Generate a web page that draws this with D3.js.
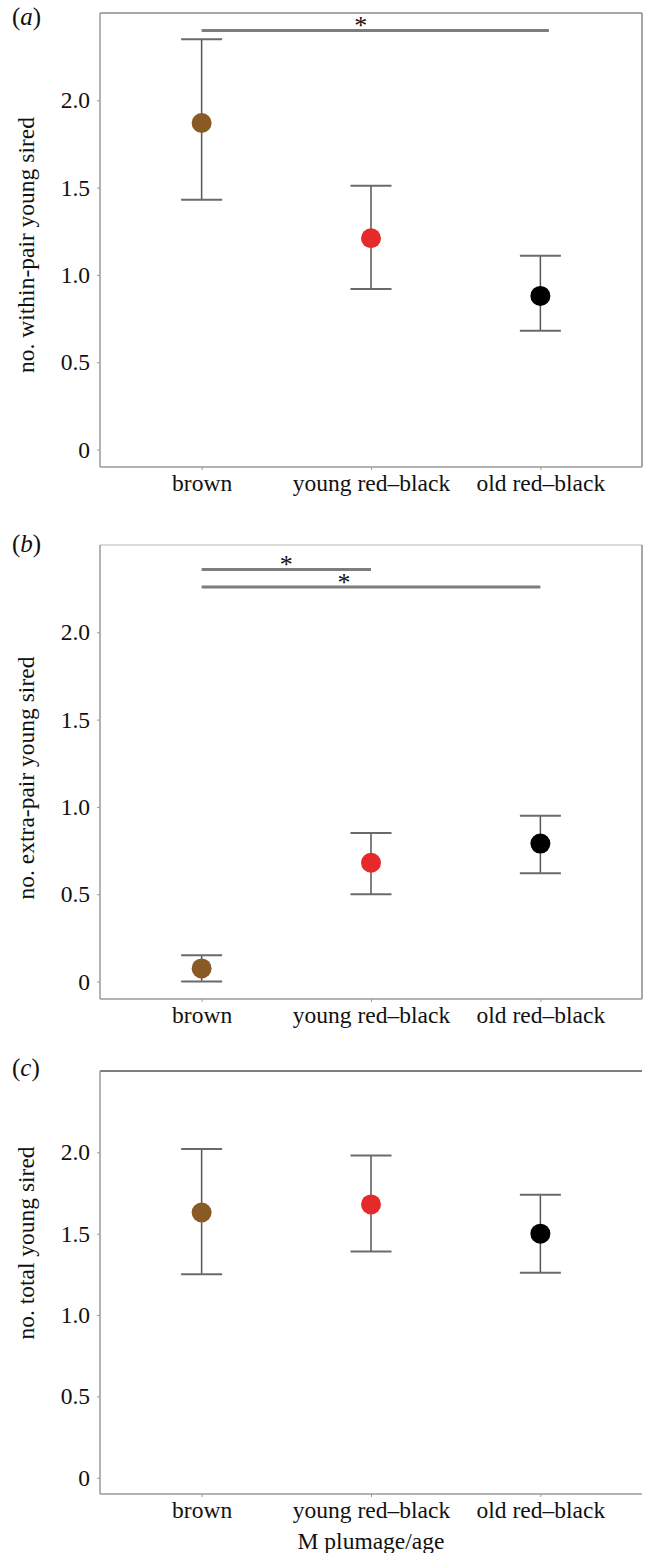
<!DOCTYPE html>
<html>
<head>
<meta charset="utf-8">
<script src="https://cdn.jsdelivr.net/npm/d3@7/dist/d3.min.js"></script>
<style>
  html, body { margin: 0; padding: 0; background: #fff; }
  svg { display: block; }
  text { font-family: "Liberation Serif", "DejaVu Serif", serif; fill: #111; }
</style>
</head>
<body>
<svg id="chart" width="649" height="1553"></svg>
<script>
// ---------- data ----------
const categories = ["brown", "young red\u2013black", "old red\u2013black"];
const pointColors = ["#8a5a24", "#e62a2a", "#000000"];
const yTicks = [0, 0.5, 1.0, 1.5, 2.0];
const yTickLabels = ["0", "0.5", "1.0", "1.5", "2.0"];

// (a) within-pair young sired
const withinMean = [1.87, 1.21, 0.88];
const withinLow  = [1.43, 0.92, 0.68];
const withinHigh = [2.35, 1.51, 1.11];

// (b) extra-pair young sired
const extraMean = [0.075, 0.68, 0.79];
const extraLow  = [0.0, 0.50, 0.62];
const extraHigh = [0.15, 0.85, 0.95];

// (c) total young sired
const totalMean = [1.63, 1.68, 1.50];
const totalLow  = [1.25, 1.39, 1.26];
const totalHigh = [2.02, 1.98, 1.74];

// significance bars: [from index, to index, y value, star index position]
const sigA = [[0, 2.05, 2.40, 0.94]];
const sigB = [[0, 1.0, 2.36, 0.50], [0, 2.0, 2.26, 0.84]];
const sigC = [];

const yTitles = ["no. within-pair young sired", "no. extra-pair young sired", "no. total young sired"];
const panelTags = ["a", "b", "c"];
const xTitle = "M plumage/age";

// ---------- layout ----------
const svg = d3.select("#chart");
const left = 100, right = 642;
const FS = 23.5;
const panels = [
  { top: 13,   bottom: 467,  mean: withinMean, low: withinLow, high: withinHigh, sig: sigA, frame: "box",  topColor: "#8a8a8a", titleY: 245, tagY: 25 },
  { top: 545,  bottom: 999,  mean: extraMean,  low: extraLow,  high: extraHigh,  sig: sigB, frame: "box",  topColor: "#cfcfcf", titleY: 778, tagY: 552 },
  { top: 1071, bottom: 1494, mean: totalMean,  low: totalLow,  high: totalHigh,  sig: sigC, frame: "open", topColor: "#555555", titleY: 1243, tagY: 1076 }
];

const x = d3.scalePoint().domain(categories).range([left, right]).padding(0.6);
const xi = d3.scaleLinear().domain([0, 2]).range([x(categories[0]), x(categories[2])]);

panels.forEach((p, pi) => {
  const y = d3.scaleLinear().domain([-0.1, 2.5]).range([p.bottom, p.top]);
  const g = svg.append("g");

  // frame top / right
  g.append("line").attr("x1", left).attr("x2", right).attr("y1", p.top).attr("y2", p.top)
    .attr("stroke", p.topColor).attr("stroke-width", 1.5);
  if (p.frame === "box") {
    g.append("line").attr("x1", right).attr("x2", right).attr("y1", p.top).attr("y2", p.bottom)
      .attr("stroke", "#8a8a8a").attr("stroke-width", 1.5);
  }

  // y axis
  const yAxis = d3.axisLeft(y).tickValues(yTicks).tickFormat((d, i) => yTickLabels[i])
    .tickSize(3).tickPadding(7);
  const ya = g.append("g").attr("transform", `translate(${left},0)`).call(yAxis);
  ya.select(".domain").attr("stroke", "#9a9a9a").attr("stroke-width", 1.5)
    .attr("d", `M0,${p.top}V${p.bottom}`);
  ya.selectAll(".tick line").attr("stroke", "#9a9a9a");
  ya.selectAll(".tick text").attr("font-size", FS).attr("font-family", "Liberation Serif").attr("fill", "#111");

  // x axis
  const xAxis = d3.axisBottom(x).tickSize(3).tickPadding(4);
  const xa = g.append("g").attr("transform", `translate(0,${p.bottom})`).call(xAxis);
  xa.select(".domain").attr("stroke", "#9a9a9a").attr("stroke-width", 1.5)
    .attr("d", `M${left},0H${right}`);
  xa.selectAll(".tick line").attr("stroke", "#9a9a9a");
  xa.selectAll(".tick text").attr("font-size", FS).attr("font-family", "Liberation Serif").attr("fill", "#111");

  // y title
  g.append("text").attr("transform", `translate(34,${p.titleY}) rotate(-90)`)
    .attr("text-anchor", "middle").attr("font-size", FS).text(yTitles[pi]);

  // panel tag
  const tag = g.append("text").attr("x", 12).attr("y", p.tagY).attr("font-size", 25);
  tag.append("tspan").text("(");
  tag.append("tspan").attr("font-style", "italic").text(panelTags[pi]);
  tag.append("tspan").text(")");

  // significance bars
  p.sig.forEach(s => {
    g.append("line").attr("x1", xi(s[0])).attr("x2", xi(s[1])).attr("y1", y(s[2])).attr("y2", y(s[2]))
      .attr("stroke", "#7d7d7d").attr("stroke-width", 3);
    g.append("text").attr("x", xi(s[3])).attr("y", y(s[2]) + 4).attr("text-anchor", "middle")
      .attr("font-size", 26).attr("fill", "#333").text("*");
  });

  // error bars
  const data = categories.map((c, i) => ({ c, i, m: p.mean[i], lo: p.low[i], hi: p.high[i] }));
  const eb = g.selectAll(".eb").data(data).enter().append("g");
  eb.append("line").attr("x1", d => x(d.c)).attr("x2", d => x(d.c))
    .attr("y1", d => y(d.lo)).attr("y2", d => y(d.hi))
    .attr("stroke", "#555").attr("stroke-width", 1.5);
  eb.append("line").attr("x1", d => x(d.c) - 20.5).attr("x2", d => x(d.c) + 20.5)
    .attr("y1", d => y(d.hi)).attr("y2", d => y(d.hi))
    .attr("stroke", "#6a6a6a").attr("stroke-width", 2);
  eb.append("line").attr("x1", d => x(d.c) - 20.5).attr("x2", d => x(d.c) + 20.5)
    .attr("y1", d => y(d.lo)).attr("y2", d => y(d.lo))
    .attr("stroke", "#6a6a6a").attr("stroke-width", 2);
  eb.append("circle").attr("cx", d => x(d.c)).attr("cy", d => y(d.m)).attr("r", 10)
    .attr("fill", d => pointColors[d.i]);

  if (pi === 2) {
    g.append("text").attr("x", x(categories[1])).attr("y", p.bottom + 55)
      .attr("text-anchor", "middle").attr("font-size", FS).text(xTitle);
  }
});
</script>
</body>
</html>
